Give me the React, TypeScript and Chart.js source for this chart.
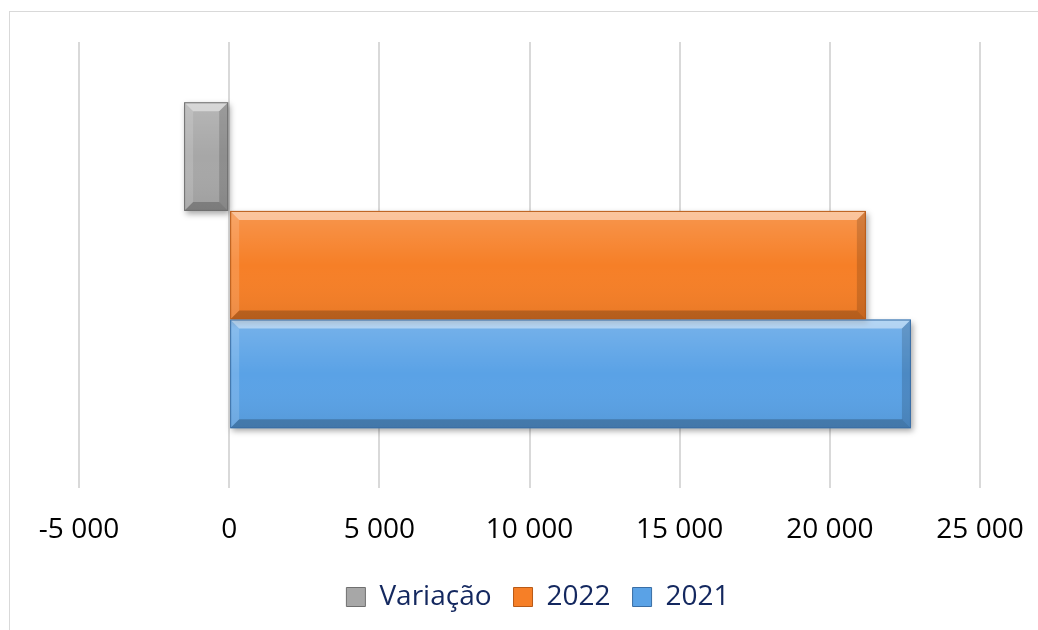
import React, { useEffect, useRef } from "react";
import { Chart, registerables } from "chart.js";

Chart.register(...registerables);

const categories: string[] = [""];
const seriesLabels: string[] = ["Variação", "2022", "2021"];
const variacaoValues: number[] = [-1500];
const values2022: number[] = [21200];
const values2021: number[] = [22700];
const axisMin = -5000;
const axisMax = 25000;
const axisStep = 5000;

const fillColors = ["#a7a7a7", "#f67f27", "#5aa2e6"];
const edgeColors = ["#6f6f6f", "#b85a17", "#3a6ea5"];

const FONT = "'Open Sans', 'DejaVu Sans', sans-serif";

function fmt(v: number): string {
  const s = Math.abs(v).toString().replace(/\B(?=(\d{3})+(?!\d))/g, " ");
  return (v < 0 ? "-" : "") + s;
}

const shadowPlugin = {
  id: "barShadow",
  beforeDatasetDraw(chart: any) {
    const ctx = chart.ctx;
    ctx.save();
    ctx.shadowColor = "rgba(0,0,0,0.35)";
    ctx.shadowBlur = 6;
    ctx.shadowOffsetX = 2;
    ctx.shadowOffsetY = 3;
  },
  afterDatasetDraw(chart: any) {
    chart.ctx.restore();
  },
};

const legendShiftPlugin = {
  id: "legendShift",
  afterLayout(chart: any) {
    const lg = chart.legend;
    if (lg) {
      const c = (lg.left + lg.right) / 2;
      const shift = 528 - c;
      lg.left += shift;
      lg.right += shift;
    }
  },
};

const bevelPlugin = {
  id: "bevel",
  afterDatasetsDraw(chart: any) {
    const ctx = chart.ctx;
    chart.data.datasets.forEach((_ds: any, i: number) => {
      const meta = chart.getDatasetMeta(i);
      meta.data.forEach((el: any) => {
        const p = el.getProps(["x", "y", "base", "height"], true);
        const l = Math.min(p.x, p.base);
        const r = Math.max(p.x, p.base);
        const t = p.y - p.height / 2;
        const b = p.y + p.height / 2;
        const d = Math.min(9, (r - l) / 3, (b - t) / 3);
        ctx.save();
        const g = ctx.createLinearGradient(0, t, 0, b);
        g.addColorStop(0, "rgba(255,255,255,0.18)");
        g.addColorStop(0.5, "rgba(255,255,255,0)");
        g.addColorStop(1, "rgba(0,0,0,0.06)");
        ctx.fillStyle = g;
        ctx.fillRect(l, t, r - l, b - t);
        ctx.fillStyle = "rgba(255,255,255,0.45)";
        ctx.beginPath();
        ctx.moveTo(l, t); ctx.lineTo(r, t); ctx.lineTo(r - d, t + d); ctx.lineTo(l + d, t + d); ctx.closePath(); ctx.fill();
        ctx.fillStyle = "rgba(255,255,255,0.15)";
        ctx.beginPath();
        ctx.moveTo(l, t); ctx.lineTo(l + d, t + d); ctx.lineTo(l + d, b - d); ctx.lineTo(l, b); ctx.closePath(); ctx.fill();
        ctx.fillStyle = "rgba(0,0,0,0.15)";
        ctx.beginPath();
        ctx.moveTo(r, t); ctx.lineTo(r, b); ctx.lineTo(r - d, b - d); ctx.lineTo(r - d, t + d); ctx.closePath(); ctx.fill();
        ctx.fillStyle = "rgba(0,0,0,0.22)";
        ctx.beginPath();
        ctx.moveTo(l, b); ctx.lineTo(r, b); ctx.lineTo(r - d, b - d); ctx.lineTo(l + d, b - d); ctx.closePath(); ctx.fill();
        ctx.strokeStyle = edgeColors[i];
        ctx.lineWidth = 1;
        ctx.strokeRect(l + 0.5, t + 0.5, r - l - 1, b - t - 1);
        ctx.restore();
      });
    });
  },
};

export default function App() {
  const ref = useRef<HTMLCanvasElement | null>(null);
  useEffect(() => {
    if (!ref.current) return;
    const seriesData = [variacaoValues, values2022, values2021];
    const chart = new Chart(ref.current, {
      type: "bar",
      data: {
        labels: categories,
        datasets: seriesLabels.map((lab, i) => ({
          label: lab,
          data: seriesData[i],
          backgroundColor: fillColors[i],
          borderColor: edgeColors[i],
          borderWidth: 0,
          categoryPercentage: 0.73,
          barPercentage: 1,
        })),
      },
      options: {
        indexAxis: "y",
        animation: false,
        responsive: false,
        layout: { padding: { top: 30, left: 69, right: 70, bottom: 11 } },
        scales: {
          x: {
            min: axisMin,
            max: axisMax,
            ticks: {
              stepSize: axisStep,
              color: "#000000",
              font: { family: FONT, size: 28 },
              padding: 25,
              callback: (v: any) => fmt(Number(v)),
            },
            grid: { color: "#d9d9d9", lineWidth: 2, drawTicks: false },
            border: { display: false },
            afterFit: (s: any) => {
              s.paddingLeft = 0;
              s.paddingRight = 0;
              s.height -= 11;
            },
          },
          y: { display: false },
        },
        plugins: {
          legend: {
            position: "bottom",
            labels: {
              color: "#14285f",
              font: { family: FONT, size: 28 },
              boxWidth: 19,
              boxHeight: 19,
              padding: 22,
              generateLabels: (c: any) =>
                c.data.datasets.map((ds: any, i: number) => ({
                  text: ds.label,
                  fillStyle: fillColors[i],
                  strokeStyle: edgeColors[i],
                  lineWidth: 1,
                  fontColor: "#14285f",
                  datasetIndex: i,
                  hidden: false,
                })),
            },
          },
          tooltip: { enabled: false },
        },
      },
      plugins: [shadowPlugin, bevelPlugin, legendShiftPlugin],
    });
    return () => chart.destroy();
  }, []);
  return (
    <div
      style={{
        position: "fixed",
        left: 9,
        top: 11,
        width: 1040,
        height: 620,
        border: "1px solid #d9d9d9",
        background: "#ffffff",
      }}
    >
      <canvas ref={ref} width={1040} height={620} style={{ display: "block" }} />
    </div>
  );
}
